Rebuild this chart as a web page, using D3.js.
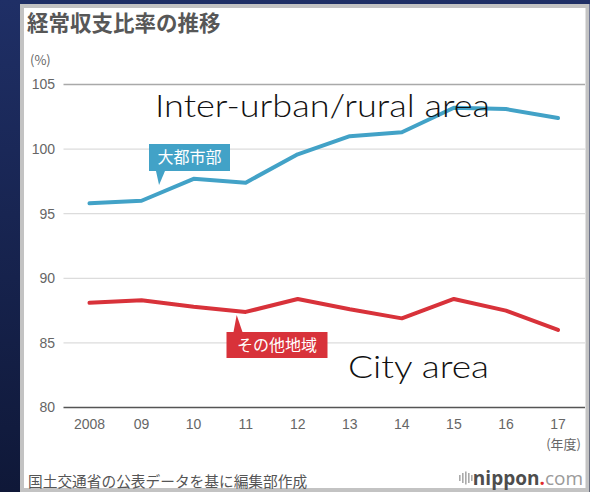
<!DOCTYPE html>
<html>
<head>
<meta charset="utf-8">
<script src="https://cdn.jsdelivr.net/npm/d3@7"></script>
<style>
  body { margin: 0; background: #141f45; }
  svg { display: block; }
</style>
</head>
<body>
<div id="chart"></div>
<script>
// 経常収支比率の推移 (%)
const years = ['2008', '09', '10', '11', '12', '13', '14', '15', '16', '17'];
const bigCity = [95.8, 96.0, 97.7, 97.4, 99.6, 101.0, 101.3, 103.2, 103.1, 102.4];
const otherArea = [88.1, 88.3, 87.8, 87.4, 88.4, 87.6, 86.9, 88.4, 87.5, 86.0];
const yTicks = [80, 85, 90, 95, 100, 105];

const width = 590,
  height = 492;

const blue = '#42a2c7',
  red = '#d8323a';

const x = d3.scalePoint()
  .domain(years)
  .range([89.5, 558]);

const y = d3.scaleLinear()
  .domain([80, 105])
  .range([407.5, 84.5]);

const line = d3.line()
  .x((d, i) => x(years[i]))
  .y(d => y(d));

const jp = '"Noto Sans CJK JP", "Noto Sans", sans-serif';
const num = '"Liberation Sans", Arial, sans-serif';

const svg = d3.select('#chart').append('svg')
  .attr('width', width)
  .attr('height', height);

// 背景
const grad = svg.append('defs').append('linearGradient')
  .attr('id', 'bg')
  .attr('x1', 0).attr('y1', 0).attr('x2', 0).attr('y2', 1);
grad.append('stop').attr('offset', '0%').attr('stop-color', '#1f2f66');
grad.append('stop').attr('offset', '100%').attr('stop-color', '#0f1838');

svg.append('rect')
  .attr('width', width)
  .attr('height', height)
  .attr('fill', 'url(#bg)');

svg.append('rect')
  .attr('x', 22)
  .attr('y', 6)
  .attr('width', 565.5)
  .attr('height', 484)
  .attr('fill', '#fff')
  .attr('stroke', '#c3c3c3')
  .attr('stroke-width', 4);

// タイトル
svg.append('text')
  .attr('x', 27)
  .attr('y', 31)
  .style('font', `bold 21.5px ${jp}`)
  .attr('fill', '#575757')
  .text('経常収支比率の推移');

svg.append('text')
  .attr('x', 30)
  .attr('y', 65)
  .style('font', `13px ${jp}`)
  .attr('fill', '#666')
  .text('(%)');

// グリッド
const grid = svg.append('g');
grid.selectAll('line')
  .data(yTicks)
  .enter().append('line')
  .attr('x1', 63.5)
  .attr('x2', 585)
  .attr('y1', d => y(d))
  .attr('y2', d => y(d))
  .attr('stroke', d => d === 80 ? '#555' : d === 105 ? '#a9a9a9' : '#dcdcdc')
  .attr('stroke-width', d => d === 80 ? 1.5 : d === 105 ? 1.6 : 1.2);

grid.selectAll('text')
  .data(yTicks)
  .enter().append('text')
  .attr('x', 55)
  .attr('y', d => y(d))
  .attr('dy', '0.35em')
  .attr('text-anchor', 'end')
  .style('font', `14px ${num}`)
  .attr('fill', '#666')
  .text(d => d);

// x軸ラベル
svg.append('g').selectAll('text')
  .data(years)
  .enter().append('text')
  .attr('x', d => x(d))
  .attr('y', 429)
  .attr('text-anchor', 'middle')
  .style('font', `14px ${num}`)
  .attr('fill', '#666')
  .text(d => d);

svg.append('text')
  .attr('x', 581)
  .attr('y', 449)
  .attr('text-anchor', 'end')
  .style('font', `13px ${jp}`)
  .attr('fill', '#666')
  .text('(年度)');

// 折れ線
[[bigCity, blue], [otherArea, red]].forEach(([vals, c]) => {
  svg.append('path')
    .datum(vals)
    .attr('d', line)
    .attr('fill', 'none')
    .attr('stroke', c)
    .attr('stroke-width', 4)
    .attr('stroke-linejoin', 'round')
    .attr('stroke-linecap', 'round');
});

// 吹き出しラベル
function callout(cx, boxY, w, h, tipX, tipY, color, label, down) {
  const g = svg.append('g');
  const bx = cx - w / 2;
  const baseY = down ? boxY + h : boxY;
  g.append('path')
    .attr('d', `M${bx + 7},${baseY}L${bx + 16},${baseY}L${tipX},${tipY}Z`)
    .attr('fill', color);
  g.append('rect')
    .attr('x', bx)
    .attr('y', boxY)
    .attr('width', w)
    .attr('height', h)
    .attr('fill', color);
  g.append('text')
    .attr('x', cx)
    .attr('y', boxY + h / 2)
    .attr('dy', '0.36em')
    .attr('text-anchor', 'middle')
    .style('font', `16px ${jp}`)
    .attr('fill', '#fff')
    .text(label);
}

callout(189.5, 144, 81, 27, x('09') + 17.5, 185, blue, '大都市部', true);
callout(277, 332, 101, 26, x('11') - 9, 315, red, 'その他地域', false);

// 英語の注記
svg.append('text')
  .attr('x', 155)
  .attr('y', 117)
  .attr('textLength', 335)
  .attr('lengthAdjust', 'spacingAndGlyphs')
  .style('font', '300 32px Lato, "Open Sans", sans-serif')
  .attr('fill', '#111')
  .text('Inter-urban/rural area');

svg.append('text')
  .attr('x', 348)
  .attr('y', 378)
  .attr('textLength', 141)
  .attr('lengthAdjust', 'spacingAndGlyphs')
  .style('font', '300 32px Lato, "Open Sans", sans-serif')
  .attr('fill', '#111')
  .text('City area');

// 出典
svg.append('text')
  .attr('x', 28)
  .attr('y', 487)
  .style('font', `14.7px ${jp}`)
  .attr('fill', '#555')
  .text('国土交通省の公表データを基に編集部作成');

// ロゴ
const logo = svg.append('g');
[[459, 6], [462, 10], [465, 13], [468, 10], [471, 6]].forEach(([bx, bh]) => {
  logo.append('rect')
    .attr('x', bx)
    .attr('y', 478 - bh / 2)
    .attr('width', 1.6)
    .attr('height', bh)
    .attr('fill', '#aaa');
});
const lt = logo.append('text')
  .attr('x', 583)
  .attr('y', 485)
  .attr('text-anchor', 'end')
  .style('font', '19px "Open Sans", sans-serif');
lt.append('tspan').attr('font-weight', 'bold').attr('fill', '#4d4d4d').text('nippon');
lt.append('tspan').attr('font-weight', 'bold').attr('fill', '#e02a2a').text('.');
lt.append('tspan').attr('fill', '#9a9a9a').text('com');
</script>
</body>
</html>
